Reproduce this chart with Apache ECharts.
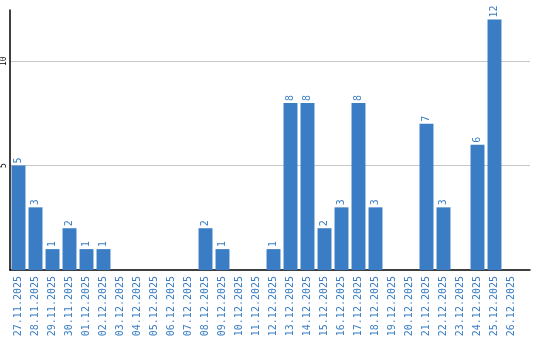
<!DOCTYPE html>
<html><head><meta charset="utf-8">
<script src="https://cdn.jsdelivr.net/npm/echarts@6/dist/echarts.min.js"></script>
<style>html,body{margin:0;padding:0;background:#fff}#c{width:540px;height:340px}</style>
</head><body><div id="c"></div>
<script>
const categories = ["27.11.2025","28.11.2025","29.11.2025","30.11.2025","01.12.2025","02.12.2025","03.12.2025","04.12.2025","05.12.2025","06.12.2025","07.12.2025","08.12.2025","09.12.2025","10.12.2025","11.12.2025","12.12.2025","13.12.2025","14.12.2025","15.12.2025","16.12.2025","17.12.2025","18.12.2025","19.12.2025","20.12.2025","21.12.2025","22.12.2025","23.12.2025","24.12.2025","25.12.2025","26.12.2025"];
const values = [5,3,1,2,1,1,0,0,0,0,0,2,1,0,0,1,8,8,2,3,8,3,0,0,7,3,0,6,12,0];
const yMax = 12.45;
const blue = '#3a7dc4';
const mono = '"DejaVu Sans Mono", monospace';
const chart = echarts.init(document.getElementById('c'));
chart.setOption({
  animation:false,
  grid:[
    {left:10,right:10,top:10,bottom:70,containLabel:false},
    {left:10,right:20,top:10,bottom:70,containLabel:false}
  ],
  xAxis:[
    {type:'value',gridIndex:0,min:0,max:1,
      axisLine:{show:true,lineStyle:{color:'#000',width:1.5}},
      axisTick:{show:false},axisLabel:{show:false},splitLine:{show:false}},
    {type:'category',gridIndex:1,data:categories,
      axisLine:{show:false},
      axisTick:{show:false},
      axisLabel:{rotate:90,interval:0,color:blue,fontFamily:mono,fontSize:10,margin:6}}
  ],
  yAxis:[
    {type:'value',gridIndex:0,min:0,max:yMax,interval:5,
      axisLine:{show:true,lineStyle:{color:'#000',width:1.5}},
      axisTick:{show:false},
      splitLine:{lineStyle:{color:'#c8c8c8',width:1},showMinLine:false,showMaxLine:false},
      axisLabel:{rotate:90,color:'#000',fontFamily:mono,fontSize:8,margin:2,showMaxLabel:false,showMinLabel:false}},
    {type:'value',gridIndex:1,min:0,max:yMax,interval:5,show:false,splitLine:{show:false}}
  ],
  series:[{type:'bar',xAxisIndex:1,yAxisIndex:1,data:values,barCategoryGap:'18%',
    itemStyle:{color:blue},
    label:{show:true,position:'top',rotate:90,align:'left',verticalAlign:'middle',distance:2,
      color:blue,fontFamily:mono,fontSize:10,
      formatter:p=>p.value?String(p.value):''}}]
});
</script></body></html>
